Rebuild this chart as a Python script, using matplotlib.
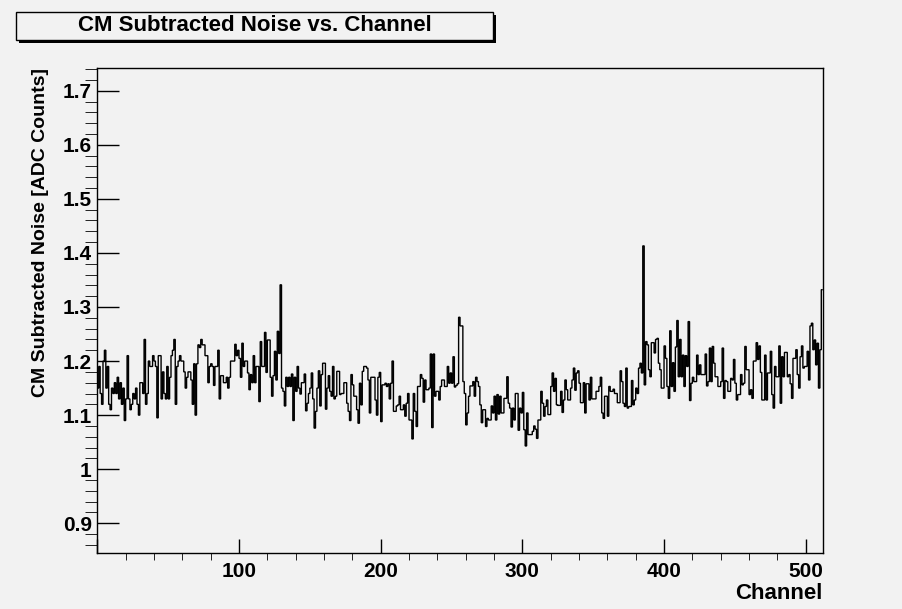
import numpy as np
import matplotlib
matplotlib.use("Agg")
import matplotlib.pyplot as plt
from matplotlib.patches import Rectangle
from matplotlib.ticker import MultipleLocator

# noise per channel (ADC counts)
noise = [
    1.15, 1.19, 1.14, 1.12, 1.20, 1.22, 1.15, 1.19, 1.12, 1.11,
    1.15, 1.14, 1.16, 1.14, 1.17, 1.13, 1.16, 1.12, 1.15, 1.09,
    1.13, 1.21, 1.13, 1.11, 1.12, 1.14, 1.13, 1.15, 1.12, 1.10,
    1.16, 1.16, 1.14, 1.24, 1.12, 1.14, 1.20, 1.19, 1.19, 1.21,
    1.20, 1.19, 1.095, 1.21, 1.21, 1.13, 1.18, 1.14, 1.13, 1.19,
    1.13, 1.17, 1.21, 1.22, 1.24, 1.12, 1.19, 1.20, 1.21, 1.20,
    1.20, 1.18, 1.15, 1.17, 1.18, 1.18, 1.165, 1.12, 1.195, 1.10,
    1.195, 1.23, 1.225, 1.24, 1.23, 1.23, 1.21, 1.21, 1.16, 1.19,
    1.195, 1.19, 1.155, 1.19, 1.19, 1.22, 1.13, 1.173, 1.173, 1.16,
    1.16, 1.17, 1.15, 1.17, 1.20, 1.20, 1.20, 1.231, 1.21, 1.22,
    1.205, 1.17, 1.233, 1.19, 1.20, 1.20, 1.178, 1.147, 1.175, 1.16,
    1.21, 1.16, 1.19, 1.19, 1.125, 1.236, 1.19, 1.19, 1.253, 1.179,
    1.239, 1.239, 1.17, 1.135, 1.173, 1.218, 1.165, 1.255, 1.214, 1.341,
    1.15, 1.144, 1.117, 1.17, 1.153, 1.17, 1.153, 1.176, 1.09, 1.17,
    1.144, 1.19, 1.15, 1.139, 1.16, 1.16, 1.176, 1.108, 1.122, 1.14,
    1.15, 1.178, 1.13, 1.076, 1.107, 1.15, 1.182, 1.117, 1.175, 1.196,
    1.196, 1.111, 1.15, 1.173, 1.144, 1.135, 1.19, 1.13, 1.135, 1.181,
    1.181, 1.138, 1.14, 1.14, 1.16, 1.16, 1.122, 1.107, 1.09, 1.175,
    1.156, 1.135, 1.135, 1.11, 1.085, 1.159, 1.119, 1.181, 1.19, 1.19,
    1.187, 1.165, 1.104, 1.17, 1.17, 1.17, 1.128, 1.10, 1.17, 1.179,
    1.088, 1.156, 1.156, 1.159, 1.153, 1.158, 1.13, 1.159, 1.20, 1.107,
    1.107, 1.117, 1.119, 1.135, 1.11, 1.11, 1.119, 1.098, 1.122, 1.14,
    1.091, 1.091, 1.056, 1.14, 1.107, 1.079, 1.153, 1.153, 1.175, 1.168,
    1.124, 1.165, 1.147, 1.147, 1.15, 1.213, 1.077, 1.213, 1.135, 1.144,
    1.144, 1.128, 1.153, 1.165, 1.165, 1.153, 1.153, 1.19, 1.159, 1.178,
    1.159, 1.208, 1.152, 1.155, 1.158, 1.281, 1.265, 1.265, 1.162, 1.14,
    1.082, 1.104, 1.135, 1.154, 1.154, 1.162, 1.135, 1.17, 1.162, 1.153,
    1.119, 1.086, 1.11, 1.11, 1.079, 1.094, 1.091, 1.091, 1.117, 1.104,
    1.135, 1.091, 1.138, 1.102, 1.135, 1.104, 1.104, 1.131, 1.131, 1.171,
    1.122, 1.113, 1.078, 1.113, 1.091, 1.14, 1.14, 1.072, 1.113, 1.104,
    1.142, 1.073, 1.043, 1.104, 1.064, 1.064, 1.064, 1.07, 1.08, 1.074,
    1.057, 1.091, 1.091, 1.144, 1.122, 1.098, 1.116, 1.128, 1.101, 1.101,
    1.153, 1.178, 1.144, 1.168, 1.119, 1.118, 1.118, 1.144, 1.105, 1.128,
    1.165, 1.147, 1.128, 1.128, 1.15, 1.165, 1.187, 1.146, 1.178, 1.182,
    1.159, 1.123, 1.123, 1.16, 1.104, 1.158, 1.158, 1.128, 1.17, 1.13,
    1.13, 1.13, 1.144, 1.144, 1.153, 1.17, 1.104, 1.094, 1.135, 1.135,
    1.098, 1.153, 1.144, 1.144, 1.148, 1.14, 1.14, 1.123, 1.123, 1.182,
    1.162, 1.122, 1.116, 1.187, 1.113, 1.116, 1.116, 1.164, 1.119, 1.128,
    1.15, 1.14, 1.187, 1.196, 1.178, 1.413, 1.156, 1.236, 1.23, 1.184,
    1.171, 1.234, 1.234, 1.215, 1.24, 1.242, 1.196, 1.184, 1.15, 1.15,
    1.228, 1.205, 1.153, 1.131, 1.256, 1.153, 1.197, 1.144, 1.226, 1.275,
    1.171, 1.24, 1.171, 1.211, 1.153, 1.21, 1.19, 1.273, 1.127, 1.159,
    1.17, 1.162, 1.162, 1.211, 1.175, 1.193, 1.175, 1.175, 1.175, 1.213,
    1.154, 1.162, 1.224, 1.162, 1.227, 1.196, 1.171, 1.171, 1.153, 1.153,
    1.162, 1.224, 1.131, 1.164, 1.162, 1.144, 1.144, 1.168, 1.165, 1.203,
    1.159, 1.128, 1.138, 1.138, 1.175, 1.156, 1.159, 1.227, 1.184, 1.184,
    1.138, 1.147, 1.131, 1.20, 1.20, 1.234, 1.203, 1.228, 1.179, 1.128,
    1.128, 1.211, 1.128, 1.178, 1.178, 1.218, 1.138, 1.113, 1.19, 1.171,
    1.171, 1.228, 1.122, 1.208, 1.171, 1.216, 1.216, 1.171, 1.175, 1.158,
    1.131, 1.205, 1.205, 1.221, 1.175, 1.15, 1.208, 1.228, 1.187, 1.19,
    1.19, 1.218, 1.165, 1.265, 1.27, 1.221, 1.239, 1.193, 1.233, 1.15,
    1.221, 1.332,
]
n_channels = 512
x_range = (0, 512)
y_range = (0.8445, 1.7414)

title = "CM Subtracted Noise vs. Channel"
xlabel = "Channel"
ylabel = "CM Subtracted Noise [ADC Counts]"

bg = "#f2f2f2"
plt.rcParams['font.family'] = ['Liberation Sans', 'DejaVu Sans']
plt.rcParams['font.weight'] = 'bold'

fig = plt.figure(figsize=(9.02, 6.09), dpi=100, facecolor=bg)
ax = fig.add_axes([0.1079, 0.0915, 0.9121 - 0.1079, 0.8878 - 0.0915])
ax.set_facecolor(bg)

edges = np.arange(n_channels + 1)
ax.stairs(noise, edges, baseline=None, color='black', linewidth=1.0)

ax.set_xlim(*x_range)
ax.set_ylim(*y_range)

ax.xaxis.set_major_locator(MultipleLocator(100))
ax.xaxis.set_minor_locator(MultipleLocator(20))
ax.yaxis.set_major_locator(MultipleLocator(0.1))
ax.yaxis.set_minor_locator(MultipleLocator(0.02))
ax.yaxis.set_major_formatter(plt.FuncFormatter(lambda v, p: f"{v:g}"))
ax.xaxis.set_major_formatter(plt.FuncFormatter(lambda v, p: "" if v == 0 else f"{v:g}"))

ax.tick_params(axis='both', direction='in', top=False, right=False,
               labelsize=15, width=1.0)
ax.tick_params(axis='y', which='major', length=16, pad=4)
ax.tick_params(axis='y', which='minor', length=8.5)
ax.tick_params(axis='x', which='major', length=10, pad=6)
ax.tick_params(axis='x', which='minor', length=5)
for s in ax.spines.values():
    s.set_linewidth(1.0)

ax.set_xlabel(xlabel, fontsize=16, fontweight='bold', loc='right', labelpad=2)
ax.set_ylabel(ylabel, fontsize=14, fontweight='bold', loc='top', labelpad=10)

# title pave with shadow
W, H = 902, 609
bx0, bx1, by0, by1 = 16, 493, 11.7, 40
sh = 3
fig.patches.append(Rectangle(((bx0 + sh) / W, 1 - (by1 + sh) / H), (bx1 - bx0) / W, (by1 - by0) / H,
                             transform=fig.transFigure, facecolor='black', edgecolor='black', lw=0))
fig.patches.append(Rectangle((bx0 / W, 1 - by1 / H), (bx1 - bx0) / W, (by1 - by0) / H,
                             transform=fig.transFigure, facecolor=bg, edgecolor='black', lw=1.0))
fig.text((bx0 + bx1) / 2 / W, 1 - (by0 + by1) / 2 / H, title, ha='center', va='center',
         fontsize=16, fontweight='bold')

fig.savefig("out.png", dpi=100, facecolor=bg)
